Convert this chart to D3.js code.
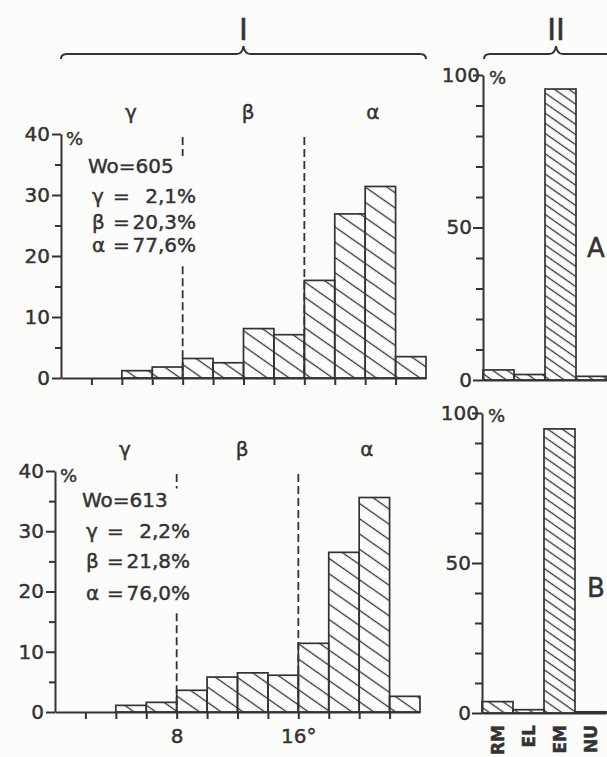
<!DOCTYPE html>
<html>
<head>
<meta charset="utf-8">
<script src="https://cdn.jsdelivr.net/npm/d3@7.9.0/dist/d3.min.js"></script>
<style>
  body { margin: 0; background: #fcfcfb; }
  svg { display: block; font-family: "DejaVu Sans", sans-serif; }
  svg text { stroke: #333; stroke-width: 0.45px; }
  .axis path, .axis line { stroke: #333; stroke-width: 2; }
  .axis text { font-size: 20px; fill: #333; font-family: "DejaVu Sans", sans-serif; }
</style>
</head>
<body>
<svg width="607" height="757"></svg>
<script>
// histogram bins (degrees) and percentages
const binEdges = [0, 2, 4, 6, 8, 10, 12, 14, 16, 18, 20, 22, 24];
const histA = [0, 0, 1.2, 1.8, 3.2, 2.5, 8.1, 7.1, 16.0, 26.9, 31.4, 3.5];
const histB = [0, 0, 1.1, 1.6, 3.6, 5.8, 6.5, 6.1, 11.4, 26.5, 35.6, 2.6];

const zoneBounds = [8, 16];
const zoneLabels = ['γ', 'β', 'α'];
const zoneCenters = [4.6, 12.3, 20.5];
const xLabelVals = [8, 16];
const xLabelText = ['8', '16°'];

const statSymbols = ['γ', 'β', 'α'];
const statsA = ['2,1%', '20,3%', '77,6%'];
const statsB = ['2,2%', '21,8%', '76,0%'];
const countA = 'Wo=605';
const countB = 'Wo=613';

// right panels
const types = ['RM', 'EL', 'EM', 'NU'];
const typeA = [3.3, 1.8, 95.4, 1.2];
const typeB = [3.8, 1.1, 94.7, 0.4];

const svg = d3.select('svg');
const ink = '#333';

// hatching
const defs = svg.append('defs');
function hatch(id, gap) {
  const p = defs.append('pattern')
    .attr('id', id)
    .attr('patternUnits', 'userSpaceOnUse')
    .attr('width', 20).attr('height', gap)
    .attr('patternTransform', 'rotate(35)');
  p.append('line')
    .attr('x1', 0).attr('x2', 20)
    .attr('y1', gap / 2).attr('y2', gap / 2)
    .attr('stroke', ink).attr('stroke-width', 1.3);
}
hatch('hatchL', 12.5);
hatch('hatchR', 8.3);

function brace(x0, x1, y) {
  const xm = (x0 + x1) / 2;
  return `M${x0},${y + 5} Q${x0},${y} ${x0 + 6},${y} L${xm - 7},${y} Q${xm - 1},${y} ${xm},${y - 8}` +
    ` Q${xm + 1},${y} ${xm + 7},${y} L${x1 - 6},${y} Q${x1},${y} ${x1},${y + 5}`;
}

function histPanel(cfg) {
  const x = d3.scaleLinear([0, 24], [cfg.x0, cfg.x1]);
  const y = d3.scaleLinear([0, 40], [cfg.y0, cfg.y1]);
  const g = svg.append('g');

  // zone labels above
  g.selectAll('text.zone')
    .data(zoneLabels)
    .join('text')
    .attr('x', (d, i) => x(zoneCenters[i]))
    .attr('y', cfg.y1 - 15)
    .attr('text-anchor', 'middle')
    .attr('font-size', 20)
    .attr('fill', ink)
    .text(d => d);

  // dashed zone boundaries (broken where the text block sits)
  zoneBounds.forEach((b, i) => {
    const segs = i === 0 ? [[39.5, cfg.gap[0]], [cfg.gap[1], 0]] : [[39.5, 0]];
    segs.forEach(s => {
      g.append('line')
        .attr('x1', x(b)).attr('x2', x(b))
        .attr('y1', y(s[0])).attr('y2', y(s[1]))
        .attr('stroke', ink).attr('stroke-width', 1.8)
        .attr('stroke-dasharray', '8,4');
    });
  });

  const bins = cfg.values.map((v, i) => ({ a: binEdges[i], b: binEdges[i + 1], v }))
    .filter(d => d.v > 0);

  g.selectAll('rect.bar')
    .data(bins)
    .join('rect')
    .attr('x', d => x(d.a))
    .attr('width', d => x(d.b) - x(d.a))
    .attr('y', d => y(d.v))
    .attr('height', d => y(0) - y(d.v))
    .attr('fill', 'url(#hatchL)')
    .attr('stroke', ink)
    .attr('stroke-width', 1.7);

  const yAxis = g.append('g')
    .attr('class', 'axis')
    .attr('transform', `translate(${cfg.x0},0)`)
    .call(d3.axisLeft(y).tickValues(d3.range(0, 41, 5)).tickSize(8).tickSizeOuter(0).tickPadding(3)
      .tickFormat(d => d % 10 === 0 ? d : ''));
  yAxis.selectAll('.tick line').attr('x2', d => d % 10 === 0 ? -9 : -6);

  g.append('g')
    .attr('class', 'axis')
    .attr('transform', `translate(0,${cfg.y0})`)
    .call(d3.axisBottom(x).tickValues(binEdges.slice(1, -1)).tickSize(7).tickSizeOuter(0).tickPadding(10)
      .tickFormat(d => {
        const k = xLabelVals.indexOf(d);
        return cfg.labels && k >= 0 ? xLabelText[k] : '';
      }));

  g.append('text')
    .attr('x', cfg.x0 + 5).attr('y', y(40) + 11)
    .attr('font-size', 18).attr('fill', ink)
    .text('%');

  // statistics block
  g.append('text')
    .attr('x', cfg.x0 + 27).attr('y', cfg.textY[0])
    .attr('font-size', 20).attr('fill', ink)
    .text(cfg.count);
  cfg.stats.forEach((s, i) => {
    const yy = cfg.textY[i + 1];
    g.append('text').attr('x', cfg.x0 + 31).attr('y', yy)
      .attr('font-size', 20).attr('fill', ink).text(statSymbols[i]);
    g.append('text').attr('x', cfg.x0 + 52).attr('y', yy)
      .attr('font-size', 20).attr('fill', ink).text('=');
    g.append('text').attr('x', cfg.x0 + 135).attr('y', yy)
      .attr('text-anchor', 'end')
      .attr('font-size', 20).attr('fill', ink).text(s);
  });
  return x;
}

function typePanel(cfg) {
  const x = d3.scaleBand(types, [cfg.x0, cfg.x1]);
  const y = d3.scaleLinear([0, 100], [cfg.y0, cfg.y1]);
  const g = svg.append('g');

  g.selectAll('rect.bar')
    .data(types.map((t, i) => ({ t, v: cfg.values[i] })))
    .join('rect')
    .attr('x', d => x(d.t))
    .attr('width', x.bandwidth())
    .attr('y', d => y(d.v))
    .attr('height', d => y(0) - y(d.v))
    .attr('fill', 'url(#hatchR)')
    .attr('stroke', ink)
    .attr('stroke-width', 1.7);

  const yAxis = g.append('g')
    .attr('class', 'axis')
    .attr('transform', `translate(${cfg.x0},0)`)
    .call(d3.axisLeft(y).tickValues(d3.range(0, 101, 10)).tickSize(7).tickSizeOuter(0).tickPadding(4)
      .tickFormat(d => d % 50 === 0 ? d : ''));
  yAxis.selectAll('.tick line').attr('x2', d => d % 50 === 0 ? -10 : -7);
  yAxis.selectAll('.tick text').filter(d => d === 100).attr('x', -3);

  g.append('g')
    .attr('class', 'axis')
    .attr('transform', `translate(0,${cfg.y0})`)
    .call(d3.axisBottom(x).tickSize(0).tickSizeOuter(0).tickFormat(''));

  g.append('text')
    .attr('x', cfg.x0 + 6).attr('y', y(100) + 9)
    .attr('font-size', 18).attr('fill', ink)
    .text('%');

  g.append('text')
    .attr('x', 587).attr('y', cfg.letterY)
    .attr('font-size', 26).attr('fill', ink)
    .text(cfg.letter);

  if (cfg.labels) {
    g.selectAll('text.cat')
      .data(types)
      .join('text')
      .attr('transform', d => `translate(${x(d) + x.bandwidth() / 2 + 6},${cfg.y0 + 12}) rotate(-90)`)
      .attr('text-anchor', 'end')
      .attr('font-size', 17)
      .attr('font-weight', 'bold')
      .attr('fill', ink)
      .text(d => d);
  }
  return x;
}

const xA = histPanel({
  x0: 61, x1: 426, y0: 378, y1: 134, values: histA, gap: [36.4, 18.3],
  count: countA, stats: statsA, textY: [173, 203, 229, 252], labels: false
});
histPanel({
  x0: 55, x1: 420, y0: 712, y1: 471, values: histB, gap: [37.1, 16.4],
  count: countB, stats: statsB, textY: [507, 538, 568, 600], labels: true
});
typePanel({ x0: 483, x1: 607, y0: 380, y1: 75, values: typeA, letter: 'A', letterY: 257, labels: false });
typePanel({ x0: 482, x1: 606, y0: 713, y1: 413, values: typeB, letter: 'B', letterY: 597, labels: true });

// group braces
svg.append('path').attr('d', brace(xA(0), xA(24), 54))
  .attr('fill', 'none').attr('stroke', ink).attr('stroke-width', 2);
svg.append('path').attr('d', brace(484, 628, 54))
  .attr('fill', 'none').attr('stroke', ink).attr('stroke-width', 2);
svg.append('text').attr('x', xA(12)).attr('y', 40).attr('text-anchor', 'middle')
  .attr('font-size', 30).attr('fill', ink).text('I');
svg.append('text').attr('x', 556).attr('y', 40).attr('text-anchor', 'middle')
  .attr('font-size', 30).attr('fill', ink).text('II');
</script>
</body>
</html>
